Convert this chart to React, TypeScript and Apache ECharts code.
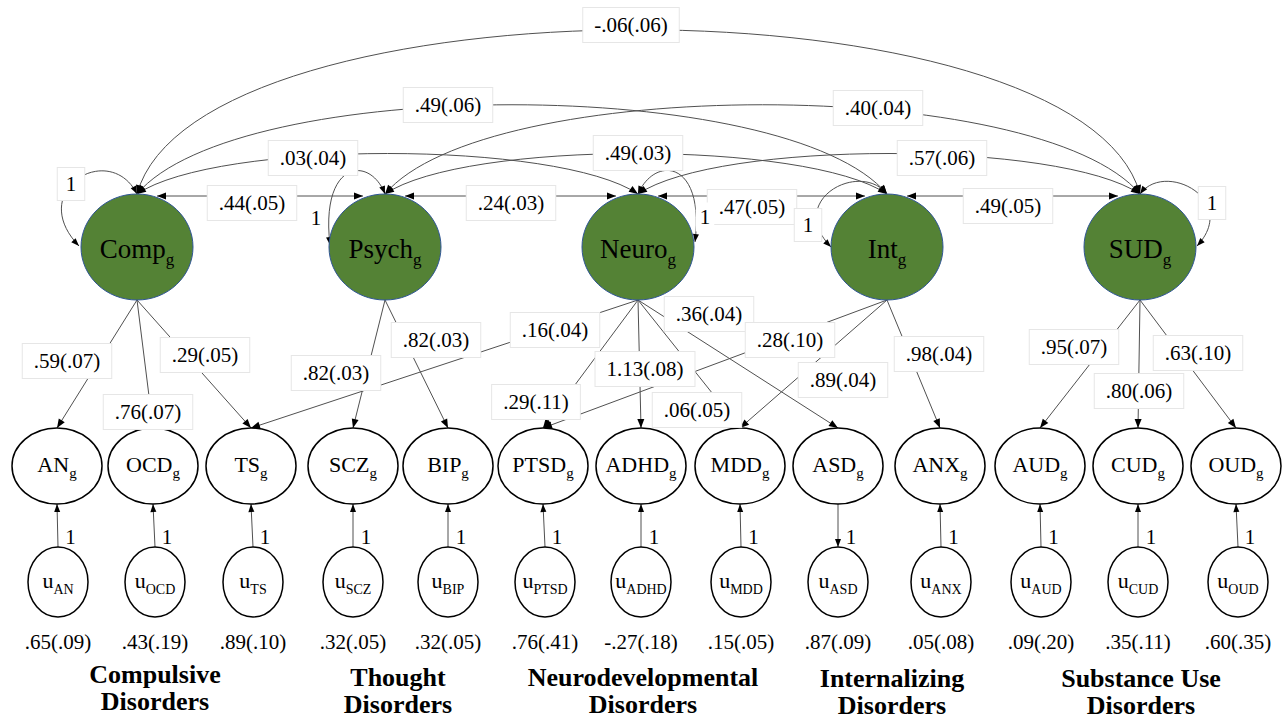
import React, { useEffect, useRef } from "react";
import * as echarts from "echarts";

// ---------- DATA ----------
const latentNames = ["Comp", "Psych", "Neuro", "Int", "SUD"];
const latentVariance = ["1", "1", "1", "1", "1"];
const observedNames = ["AN", "OCD", "TS", "SCZ", "BIP", "PTSD", "ADHD", "MDD", "ASD", "ANX", "AUD", "CUD", "OUD"];
const residualPath = ["1", "1", "1", "1", "1", "1", "1", "1", "1", "1", "1", "1", "1"];
const residualPointsUp = [true, true, true, true, true, true, true, true, false, true, true, true, true];
const residualVariance = [".65(.09)", ".43(.19)", ".89(.10)", ".32(.05)", ".32(.05)", ".76(.41)", "-.27(.18)", ".15(.05)", ".87(.09)", ".05(.08)", ".09(.20)", ".35(.11)", ".60(.35)"];
const groupTitles = ["Compulsive\nDisorders", "Thought\nDisorders", "Neurodevelopmental\nDisorders", "Internalizing\nDisorders", "Substance Use\nDisorders"];

const loadingFrom = ["Comp", "Comp", "Comp", "Psych", "Psych", "Neuro", "Neuro", "Neuro", "Neuro", "Neuro", "Int", "Int", "Int", "SUD", "SUD", "SUD"];
const loadingTo = ["AN", "OCD", "TS", "SCZ", "BIP", "TS", "PTSD", "ADHD", "MDD", "ASD", "PTSD", "MDD", "ANX", "AUD", "CUD", "OUD"];
const loadingValues = [".59(.07)", ".76(.07)", ".29(.05)", ".82(.03)", ".82(.03)", ".16(.04)", ".29(.11)", "1.13(.08)", ".06(.05)", ".36(.04)", ".28(.10)", ".89(.04)", ".98(.04)", ".95(.07)", ".80(.06)", ".63(.10)"];

const covFrom = ["Comp", "Psych", "Neuro", "Int", "Comp", "Psych", "Neuro", "Comp", "Psych", "Comp"];
const covTo = ["Psych", "Neuro", "Int", "SUD", "Neuro", "Int", "SUD", "Int", "SUD", "SUD"];
const covValues = [".44(.05)", ".24(.03)", ".47(.05)", ".49(.05)", ".03(.04)", ".49(.03)", ".57(.06)", ".49(.06)", ".40(.04)", "-.06(.06)"];

// ---------- LAYOUT ----------
const FONT = "Liberation Serif";
const LINE = "#505050";
const latentX = [137, 385, 638, 887, 1140];
const latentY = 247, latentRx = 56, latentRy = 53;
const obsX = [57, 153, 251, 353, 448, 543, 641, 740, 838, 940, 1040, 1138, 1236];
const obsY = 466, obsRx = 45, obsRy = 38;
const resX = [58, 155, 253, 353, 448, 545, 641, 741, 838, 941, 1041, 1138, 1238];
const resY = 582, resRx = 30, resRy = 35;
const varLabelY = 642;
const titleX = [155, 398, 643, 892, 1141];
const titleY = [688, 691, 691, 692, 692];
const loadingLabelPos = [[67, 361], [148, 412], [205, 355], [336, 373], [436, 340], [555, 330], [536, 402], [645, 369], [697, 410], [709, 314], [790, 340], [843, 380], [939, 354], [1074, 347], [1139, 391], [1198, 353]];
// adjacent covariances drawn straight (null); others: [control dx, control y]
const covCurve: (number[] | null)[] = [null, null, null, null, [80, 140], [80, 140], [80, 140], [100, 75], [100, 75], [60, -25]];
const covLabelPos = [[252, 203], [511, 203], [752, 207], [1008, 206], [313, 158], [638, 153], [942, 158], [448, 105], [878, 108], [631, 25]];
// variance loops: [cp1x, cp1y, cp2x, cp2y, endX, endY] relative offsets from latent centre
const loopShape = [
  [-27, -107, -112, -57, -58, -1],
  [-15, -92, -65, -87, -55, -2],
  [17, -92, 67, -87, 57, -5],
  [-27, -87, -102, -47, -56, 0],
  [25, -87, 100, -47, 57, -1],
];
const loopLabelPos = [[71, 184], [316, 218], [705, 217], [808, 225], [1212, 203]];

// ---------- HELPERS ----------
function arrowHead(tx: number, ty: number, fx: number, fy: number, len = 9, half = 3.5) {
  const a = Math.atan2(ty - fy, tx - fx);
  const bx = tx - len * Math.cos(a), by = ty - len * Math.sin(a);
  const px = -Math.sin(a) * half, py = Math.cos(a) * half;
  return {
    type: "polygon", z: 1, silent: true,
    shape: { points: [[tx, ty], [bx + px, by + py], [bx - px, by - py]] },
    style: { fill: "#000" },
  };
}

function labelBox(text: string, pos: number[], size = 21, border = "#e6e6e6", pad = [7, 11, 6, 11]) {
  return {
    type: "text", z: 3, x: pos[0], y: pos[1], silent: true,
    style: {
      text, align: "center", verticalAlign: "middle",
      fontFamily: FONT, fontSize: size, fill: "#000",
      backgroundColor: "#fff", borderColor: border, borderWidth: 1,
      padding: pad,
    },
  };
}

function subText(main: string, sub: string, x: number, y: number, mainSize: number, subSize: number, z = 4) {
  return {
    type: "text", z, x, y, silent: true,
    style: {
      text: `{m|${main}}{s|${sub}}`,
      align: "center", verticalAlign: "middle",
      rich: {
        m: { fontFamily: FONT, fontSize: mainSize, fill: "#000", lineHeight: mainSize + 4 },
        s: { fontFamily: FONT, fontSize: subSize, fill: "#000", verticalAlign: "bottom", lineHeight: subSize, padding: [0, 0, -3, 0] },
      },
    },
  };
}

function buildElements() {
  const els: any[] = [];
  const lx = (n: string) => latentX[latentNames.indexOf(n)];
  const ox = (n: string) => obsX[observedNames.indexOf(n)];
  const latTop = latentY - latentRy, latBot = latentY + latentRy;
  const obsTop = obsY - obsRy, obsBot = obsY + obsRy;
  const resTop = resY - resRy;

  // factor loadings
  loadingFrom.forEach((f, i) => {
    const x1 = lx(f), y1 = latBot, x2 = ox(loadingTo[i]), y2 = obsTop;
    els.push({ type: "line", z: 1, silent: true, shape: { x1, y1, x2, y2 }, style: { stroke: LINE, lineWidth: 1 } });
    els.push(arrowHead(x2, y2, x1, y1));
    els.push(labelBox(loadingValues[i], loadingLabelPos[i]));
  });

  // covariances
  covFrom.forEach((f, i) => {
    const xa = lx(f), xb = lx(covTo[i]);
    const c = covCurve[i];
    if (!c) {
      const y = latTop + 2;
      const x1 = xa + 20, x2 = xb - 22;
      els.push({ type: "line", z: 1, silent: true, shape: { x1, y1: y, x2, y2: y }, style: { stroke: LINE, lineWidth: 1 } });
      els.push(arrowHead(x1, y, x1 + 10, y));
      els.push(arrowHead(x2, y, x2 - 10, y));
    } else {
      const y0 = latTop;
      const cp1x = xa + c[0], cp2x = xb - c[0];
      els.push({
        type: "bezierCurve", z: 1, silent: true,
        shape: { x1: xa, y1: y0, x2: xb, y2: y0, cpx1: cp1x, cpy1: c[1], cpx2: cp2x, cpy2: c[1] },
        style: { stroke: LINE, lineWidth: 1, fill: "none" },
      });
      els.push(arrowHead(xa, y0, cp1x, c[1]));
      els.push(arrowHead(xb, y0, cp2x, c[1]));
    }
    els.push(labelBox(covValues[i], covLabelPos[i]));
  });

  // latent variance loops
  latentNames.forEach((n, i) => {
    const cx = latentX[i], cy = latentY;
    const s = loopShape[i];
    const x1 = cx, y1 = latTop;
    const cpx1 = cx + s[0], cpy1 = cy + s[1], cpx2 = cx + s[2], cpy2 = cy + s[3];
    const x2 = cx + s[4], y2 = cy + s[5];
    els.push({
      type: "bezierCurve", z: 1, silent: true,
      shape: { x1, y1, x2, y2, cpx1, cpy1, cpx2, cpy2 },
      style: { stroke: LINE, lineWidth: 1, fill: "none" },
    });
    els.push(arrowHead(x1, y1, cpx1, cpy1, 8, 3));
    els.push(arrowHead(x2, y2, cpx2, cpy2, 8, 3));
    const plain = i === 1 || i === 2;
    els.push(labelBox(latentVariance[i], loopLabelPos[i], 21, plain ? "#fff" : "#e6e6e6", plain ? [3, 3, 3, 3] : [6, 8, 5, 8]));
  });

  // latent circles
  latentNames.forEach((n, i) => {
    els.push({
      type: "ellipse", z: 2, silent: true,
      shape: { cx: latentX[i], cy: latentY, rx: latentRx, ry: latentRy },
      style: { fill: "#548235", stroke: "#2F5597", lineWidth: 1 },
    });
    els.push(subText(n, "g", latentX[i], latentY + 2, 27, 17));
  });

  // observed + residuals
  observedNames.forEach((n, i) => {
    els.push({
      type: "ellipse", z: 2, silent: true,
      shape: { cx: obsX[i], cy: obsY, rx: obsRx, ry: obsRy },
      style: { fill: "#fff", stroke: "#000", lineWidth: 1.5 },
    });
    els.push(subText(n, "g", obsX[i], obsY - 2, 22, 15));
    els.push({
      type: "ellipse", z: 2, silent: true,
      shape: { cx: resX[i], cy: resY, rx: resRx, ry: resRy },
      style: { fill: "#fff", stroke: "#000", lineWidth: 1.5 },
    });
    els.push(subText("u", n, resX[i], resY - 2, 22, 14));
    // residual path
    const rx0 = resX[i];
    const ox0 = obsX[i];
    if (residualPointsUp[i]) {
      els.push({ type: "line", z: 1, silent: true, shape: { x1: rx0, y1: resTop, x2: ox0, y2: obsBot }, style: { stroke: LINE, lineWidth: 1 } });
      els.push(arrowHead(ox0, obsBot, rx0, resTop, 8, 3));
    } else {
      els.push({ type: "line", z: 1, silent: true, shape: { x1: ox0, y1: obsBot, x2: rx0, y2: resTop }, style: { stroke: LINE, lineWidth: 1 } });
      els.push(arrowHead(rx0, resTop, ox0, obsBot, 8, 3));
    }
    els.push({
      type: "text", z: 3, x: (rx0 + ox0) / 2 + 13, y: 537, silent: true,
      style: { text: residualPath[i], align: "center", verticalAlign: "middle", fontFamily: FONT, fontSize: 21, fill: "#000" },
    });
    els.push({
      type: "text", z: 3, x: rx0, y: varLabelY, silent: true,
      style: { text: residualVariance[i], align: "center", verticalAlign: "middle", fontFamily: FONT, fontSize: 21, fill: "#000" },
    });
  });

  // group titles
  groupTitles.forEach((t, i) => {
    els.push({
      type: "text", z: 3, x: titleX[i], y: titleY[i], silent: true,
      style: { text: t, align: "center", verticalAlign: "middle", fontFamily: FONT, fontSize: 26, fontWeight: "bold", lineHeight: 27, fill: "#000" },
    });
  });

  return els;
}

export default function App() {
  const ref = useRef<HTMLDivElement>(null);
  useEffect(() => {
    document.body.style.margin = "0";
    const chart = echarts.init(ref.current!, null, { renderer: "svg" });
    chart.setOption({
      animation: false,
      backgroundColor: "#fff",
      graphic: { elements: buildElements() },
    });
    return () => chart.dispose();
  }, []);
  return <div ref={ref} style={{ width: 1287, height: 721 }} />;
}
